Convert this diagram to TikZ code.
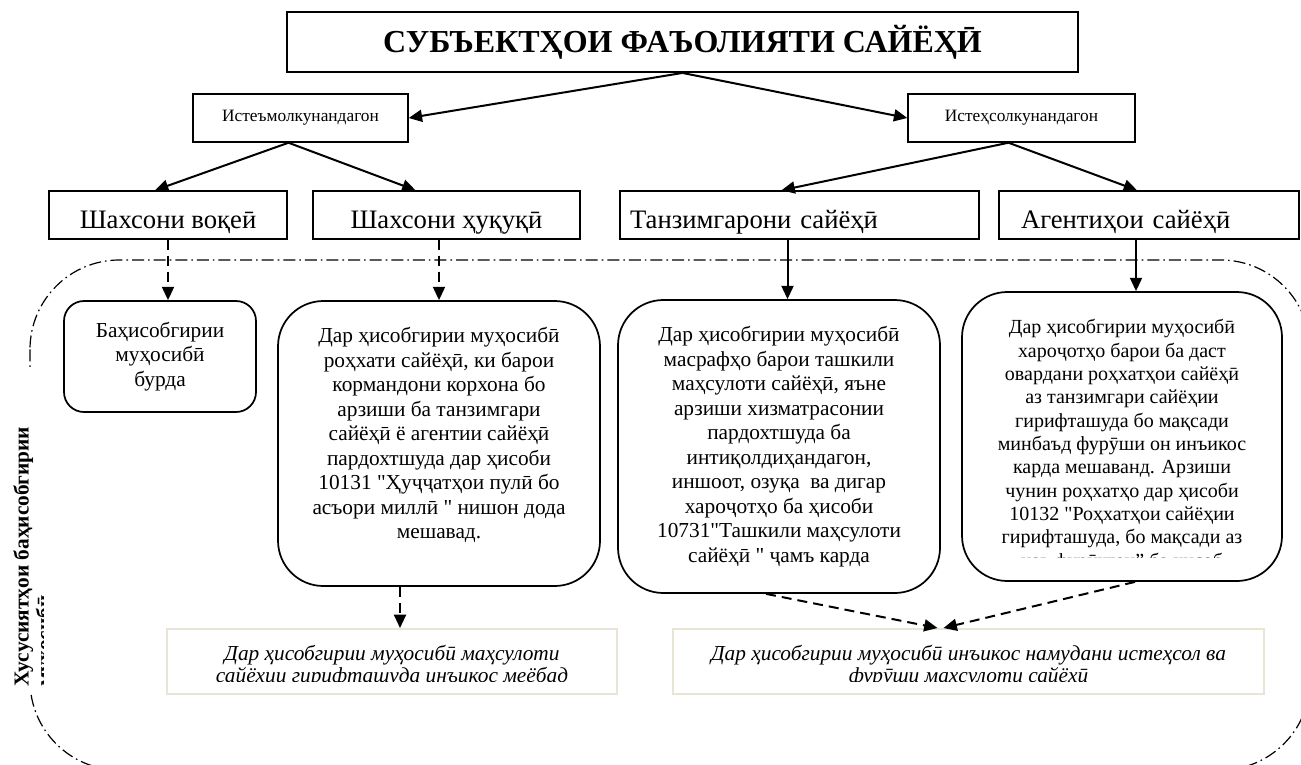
\documentclass[tikz,border=0pt]{standalone}
\usepackage{fontspec}
\setmainfont{Liberation Serif}[Ligatures=TeXOff]
\usepackage{xcolor}
\usepackage{tikz}
\usetikzlibrary{arrows.meta,positioning}
\definecolor{paleframe}{RGB}{232,228,214}
\def\px{*0.75pt}
\tikzstyle{box}=[draw,line width=1.1pt,fill=white,inner sep=0pt]
\tikzstyle{head}=[box,line width=1.4pt,font=\fontsize{24}{28}\selectfont\bfseries]
\tikzstyle{kind}=[box,font=\fontsize{13}{15}\selectfont]
\tikzstyle{actor}=[box,font=\fontsize{20}{24}\selectfont,text height=21pt,text depth=1.5pt]
\tikzstyle{card}=[box,line width=1.3pt,rounded corners=34pt]
\tikzstyle{cardtext}=[inner sep=0pt,align=center,anchor=north,font=\fontsize{16}{18.4}\selectfont]
\tikzstyle{note}=[draw=paleframe,line width=1.5pt,fill=white,inner sep=0pt]
\tikzstyle{notetext}=[inner sep=0pt,align=center,anchor=north,font=\fontsize{16}{16.5}\selectfont\itshape]
\tikzstyle{arr}=[line width=1.5pt,-{Triangle[length=10pt,width=9pt]}]
\tikzstyle{darr}=[arr,dash pattern=on 7.5pt off 4.5pt]
\tikzstyle{zone}=[line width=0.9pt,dash pattern=on 9pt off 3pt on 1.2pt off 3pt,rounded corners=67pt]

\begin{document}
\begin{tikzpicture}[x=0.75pt,y=-0.75pt]
    \useasboundingbox (0,0) rectangle (1301,764);
    \fill[white] (0,0) rectangle (1301,764);
    % frame round the lower part
    \draw[zone] (30,260) rectangle (1310,770);
    \begin{scope}
      \clip (0,367) rectangle (43,692);
      \fill[white] (0,367) rectangle (43,692);
      \node[inner sep=0pt,align=left,rotate=90,anchor=north west,font=\fontsize{16}{17}\selectfont\bfseries]
        (side) at (13,687) {Хусусиятҳои баҳисобгирии\\муҳосибӣ};
    \end{scope}
    % top levels
    \node[head,minimum width=791\px,minimum height=60\px] (title) at (682.5,42) {СУБЪЕКТҲОИ ФАЪОЛИЯТИ САЙЁҲӢ};
    \node[kind,minimum width=215\px,minimum height=48\px] (ist) at (300.5,118) {Истеъмолкунандагон};
    \node[kind,minimum width=227\px,minimum height=48\px] (ish) at (1021.5,118) {Истеҳсолкунандагон};
    \node[actor,minimum width=238\px,minimum height=48\px] (vok) at (168,215) {Шахсони воқеӣ};
    \node[actor,minimum width=267\px,minimum height=48\px] (huq) at (446.5,215) {Шахсони ҳуқуқӣ};
    \node[actor,minimum height=48\px,text width=339\px,inner xsep=10\px,align=left] (tanz) at (799.5,215) {Танзимгарони сайёҳӣ};
    \node[actor,minimum height=48\px,text width=256\px,inner xsep=22\px,align=left] (agent) at (1149,215) {Агентиҳои сайёҳӣ};
    % cards
    \node[card,rounded corners=15pt,minimum width=192\px,minimum height=111\px,align=center,
      font=\fontsize{16}{18.4}\selectfont] (b1) at (160,356.5) {Баҳисобгирии\\муҳосибӣ\\бурда};
    \node[card,minimum width=322\px,minimum height=285\px] (b2) at (439,443.5) {};
    \node[cardtext] (b2t) at ([yshift=-27\px]b2.north) {Дар ҳисобгирии муҳосибӣ\\роҳхати сайёҳӣ, ки барои\\кормандони корхона бо\\арзиши ба танзимгари\\сайёҳӣ ё агентии сайёҳӣ\\пардохтшуда дар ҳисоби\\10131 "Ҳуҷҷатҳои пулӣ бо\\асъори миллӣ " нишон дода\\мешавад.};
    \node[card,minimum width=322\px,minimum height=293\px] (b3) at (779,446.5) {};
    \node[cardtext] (b3t) at ([yshift=-27\px]b3.north) {Дар ҳисобгирии муҳосибӣ\\масрафҳо барои ташкили\\маҳсулоти сайёҳӣ, яъне\\арзиши хизматрасонии\\пардохтшуда ба\\интиқолдиҳандагон,\\иншоот, озуқа\ \ ва дигар\\хароҷотҳо ба ҳисоби\\10731"Ташкили маҳсулоти\\сайёҳӣ " ҷамъ карда};
    \node[card,minimum width=320\px,minimum height=289\px] (b4) at (1122,436.5) {};
    \begin{scope}
      \clip (b4.north west) rectangle ([yshift=24\px]b4.south east);
      \node[cardtext,font=\fontsize{15}{17.5}\selectfont] (b4t) at ([yshift=-28\px]b4.north) {Дар ҳисобгирии муҳосибӣ\\хароҷотҳо барои ба даст\\овардани роҳхатҳои сайёҳӣ\\аз танзимгари сайёҳии\\гирифташуда бо мақсади\\минбаъд фурӯши он инъикос\\карда мешаванд. Арзиши\\чунин роҳхатҳо дар ҳисоби\\10132 "Роҳхатҳои сайёҳии\\гирифташуда, бо мақсади аз\\нав фурӯхтан” ба ҳисоб};
    \end{scope}
    % notes
    \node[note,minimum width=450\px,minimum height=65\px] (r1) at (392,661.5) {};
    \node[note,minimum width=591\px,minimum height=65\px] (r2) at (968.5,661.5) {};
    \begin{scope}
      \clip (r1.north west) rectangle ([yshift=14\px]r2.south east);
      \node[notetext] (r1t) at ([yshift=-17\px]r1.north) {Дар ҳисобгирии муҳосибӣ маҳсулоти\\сайёҳии гирифташуда инъикос меёбад};
      \node[notetext] (r2t) at ([yshift=-17\px]r2.north) {Дар ҳисобгирии муҳосибӣ инъикос намудани истеҳсол ва\\фурӯши маҳсулоти сайёҳӣ};
    \end{scope}
    % connectors
    \draw[arr] (title.south) -- (ist.east);
    \draw[arr] (title.south) -- (ish.west);
    \draw[arr] ([xshift=-12\px]ist.south) -- ([xshift=-13\px]vok.north);
    \draw[arr] ([xshift=-12\px]ist.south) -- ([xshift=-31\px]huq.north);
    \draw[arr] ([xshift=-13\px]ish.south) -- ([xshift=-18\px]tanz.north);
    \draw[arr] ([xshift=-13\px]ish.south) -- ([xshift=-12\px]agent.north);
    \draw[darr] (vok.south) -- (vok.south |- b1.north);
    \draw[darr] (b2.north |- huq.south) -- (b2.north);
    \draw[arr] ([xshift=-12\px]tanz.south) -- ([xshift=-12\px]tanz.south |- b3.north);
    \draw[arr] ([xshift=-13\px]agent.south) -- ([xshift=-13\px]agent.south |- b4.north);
    \draw[darr] ([xshift=8\px]r1.north |- b2.south) -- ([xshift=8\px]r1.north);
    \draw[darr] ([xshift=-13\px]b3.south) -- ([xshift=-31\px]r2.north);
    \draw[darr] ([xshift=13\px]b4.south) -- ([xshift=-25\px]r2.north);
\end{tikzpicture}
\end{document}
